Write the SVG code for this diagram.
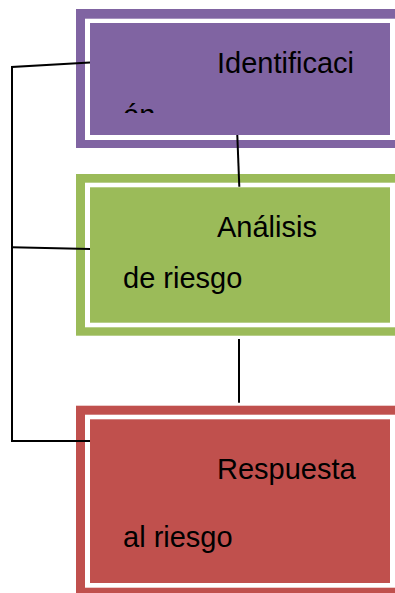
<svg xmlns="http://www.w3.org/2000/svg" width="395" height="593" viewBox="0 0 395 593">
<style>
.t{font-family:"Liberation Sans",Arial,sans-serif;font-size:29px;fill:#000}
.w{fill:#fff}
.c{stroke:#000;stroke-width:2;fill:none}
</style>
<defs>
<clipPath id="clip1"><rect x="90" y="23" width="300" height="90"/></clipPath>
</defs>
<rect width="395" height="593" fill="#fff"/>
<g id="identificacion">
<rect x="76" y="9" width="319" height="139" fill="#8064A2"/>
<rect class="w" x="85" y="18.7" width="310" height="121.3"/>
<rect x="90" y="23" width="300" height="112" fill="#8064A2"/>
<text class="t" x="217" y="72.7">Identificaci</text>
<text class="t" x="123" y="125" clip-path="url(#clip1)">ón</text>
</g>
<g id="analisis">
<rect x="76" y="174" width="319" height="161.7" fill="#9BBB59"/>
<rect class="w" x="85" y="182.7" width="310" height="144.6"/>
<rect x="90" y="187.3" width="300" height="135.4" fill="#9BBB59"/>
<text class="t" x="217" y="237">Análisis</text>
<text class="t" x="123" y="288">de riesgo</text>
</g>
<g id="respuesta">
<rect x="76" y="405.7" width="319" height="187.3" fill="#C0504D"/>
<rect class="w" x="85" y="414.7" width="310" height="173"/>
<rect x="90" y="419.3" width="300" height="163.7" fill="#C0504D"/>
<text class="t" x="217" y="479">Respuesta</text>
<text class="t" x="123" y="547">al riesgo</text>
</g>
<g id="connectors">
<polyline class="c" points="90,62.5 12,67 12,441 90,441"/>
<line class="c" x1="12" y1="247.3" x2="90" y2="249"/>
<line class="c" x1="237.3" y1="135" x2="239.3" y2="186.7"/>
<line class="c" x1="239" y1="339" x2="239" y2="402.7"/>
</g>
</svg>
